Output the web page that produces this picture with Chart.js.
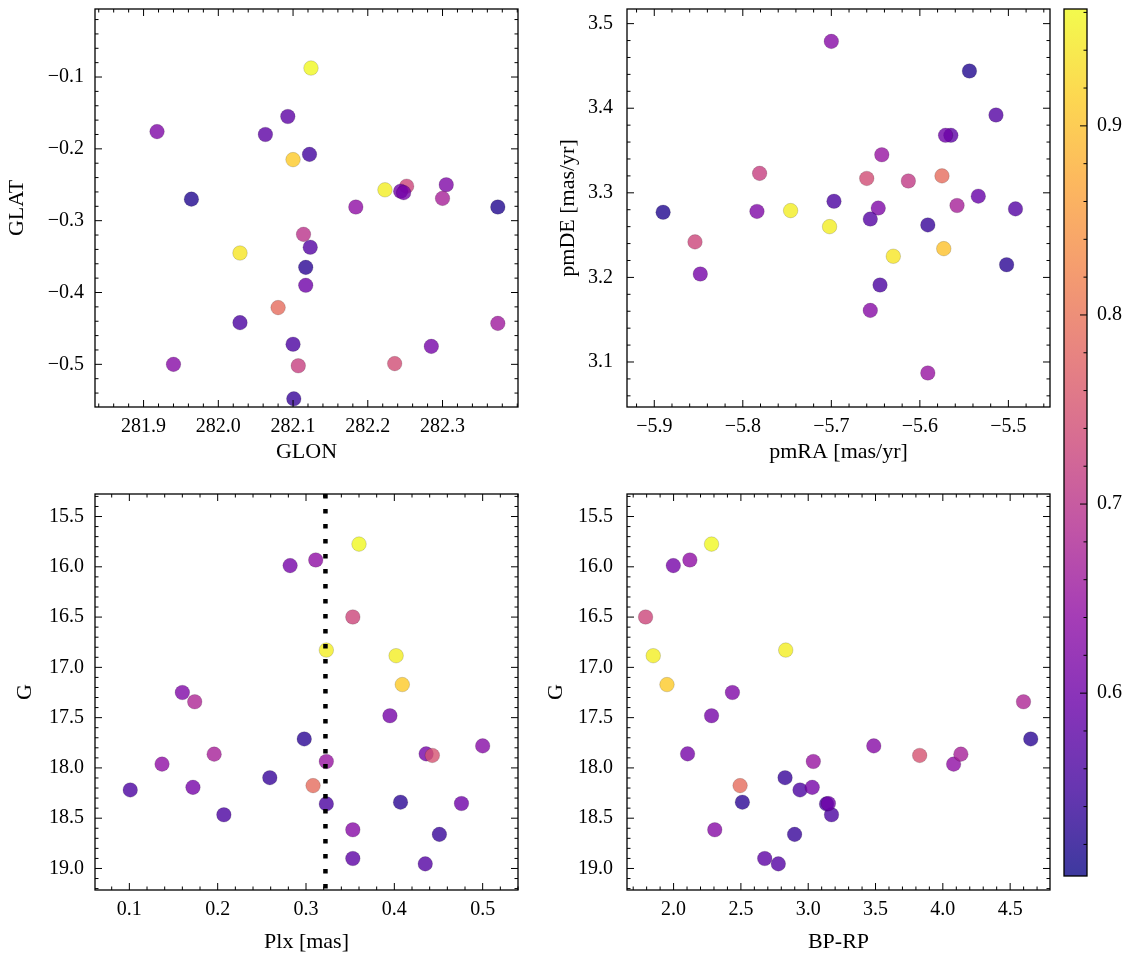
<!DOCTYPE html>
<html>
<head>
<meta charset="utf-8">
<script src="https://cdn.jsdelivr.net/npm/chart.js@4.4.1/dist/chart.umd.min.js"></script>
<style>
  body { margin: 0; background: #fff; }
  #wrap { position: relative; width: 1133px; height: 959px; }
  canvas { position: absolute; }
</style>
</head>
<body>
<div id="wrap">
  <canvas id="galChart" width="530" height="480" style="left:0;top:0"></canvas>
  <canvas id="pmChart" width="520" height="480" style="left:540px;top:0"></canvas>
  <canvas id="plxChart" width="530" height="479" style="left:0;top:480px"></canvas>
  <canvas id="cmdChart" width="520" height="479" style="left:540px;top:480px"></canvas>
  <canvas id="cbarChart" width="78" height="959" style="left:1055px;top:0"></canvas>
</div>
<script>
// Galactic coordinates (top left)
const glon = [281.918, 282.063, 282.093, 282.124, 282.100, 282.122, 281.964, 282.223, 282.252, 282.244,
              282.248, 282.305, 282.300, 282.184, 282.374, 282.114, 282.123, 282.029, 282.117, 282.117,
              282.080, 282.029, 282.374, 282.100, 282.285, 282.107, 281.940, 282.236, 282.101];
const glat = [-0.176, -0.180, -0.155, -0.0875, -0.215, -0.2077, -0.270, -0.257, -0.252, -0.259,
              -0.261, -0.250, -0.269, -0.281, -0.281, -0.319, -0.337, -0.345, -0.365, -0.390,
              -0.421, -0.442, -0.443, -0.472, -0.475, -0.502, -0.500, -0.499, -0.548];
const probGal = [0.62, 0.58, 0.58, 0.96, 0.91, 0.55, 0.52, 0.95, 0.73, 0.60,
                 0.61, 0.62, 0.67, 0.64, 0.52, 0.70, 0.57, 0.94, 0.53, 0.60,
                 0.79, 0.56, 0.66, 0.56, 0.61, 0.72, 0.63, 0.74, 0.54];

// Proper motions (top right)
const pmra = [-5.700, -5.544, -5.514, -5.565, -5.571, -5.643, -5.781, -5.660, -5.613, -5.575,
              -5.697, -5.534, -5.890, -5.784, -5.746, -5.647, -5.558, -5.492, -5.656, -5.702,
              -5.591, -5.854, -5.573, -5.630, -5.848, -5.502, -5.645, -5.656, -5.591];
const pmde = [3.479, 3.444, 3.392, 3.368, 3.368, 3.345, 3.323, 3.317, 3.314, 3.320,
              3.290, 3.296, 3.277, 3.278, 3.279, 3.282, 3.285, 3.281, 3.269, 3.260,
              3.262, 3.242, 3.234, 3.225, 3.204, 3.215, 3.191, 3.161, 3.087];
const probPm = [0.63, 0.52, 0.57, 0.58, 0.60, 0.65, 0.72, 0.74, 0.71, 0.79,
                0.56, 0.59, 0.52, 0.62, 0.95, 0.62, 0.67, 0.57, 0.57, 0.95,
                0.54, 0.73, 0.90, 0.94, 0.61, 0.53, 0.56, 0.63, 0.65];

// Photometry and parallax (bottom row)
const plx  = [0.101, 0.137, 0.160, 0.174, 0.172, 0.196, 0.207, 0.259, 0.282, 0.298,
              0.311, 0.308, 0.323, 0.323, 0.323, 0.353, 0.353, 0.353, 0.360, 0.395,
              0.402, 0.409, 0.407, 0.436, 0.443, 0.435, 0.451, 0.476, 0.500];
const gmag = [18.219, 17.962, 17.250, 17.342, 18.193, 17.863, 18.466, 18.097, 15.988, 17.712,
              15.932, 18.176, 16.828, 17.936, 18.358, 16.499, 18.615, 18.901, 15.774, 17.481,
              16.884, 17.171, 18.341, 17.860, 17.876, 18.954, 18.661, 18.354, 17.781];
const bprp = [2.939, 4.080, 2.437, 4.599, 3.030, 4.134, 3.173, 2.828, 1.998, 4.653,
              2.121, 2.494, 2.833, 3.038, 3.136, 1.792, 2.306, 2.677, 2.282, 2.282,
              1.849, 1.951, 2.511, 2.104, 3.828, 2.778, 2.899, 3.150, 3.487];
const probPhot = [0.56, 0.64, 0.62, 0.68, 0.61, 0.67, 0.56, 0.54, 0.61, 0.53,
                  0.64, 0.79, 0.95, 0.65, 0.56, 0.73, 0.63, 0.58, 0.96, 0.61,
                  0.95, 0.91, 0.53, 0.61, 0.75, 0.57, 0.54, 0.60, 0.63];
const plxMean = 0.322;

// axis limits and tick labels
const glonLim = [281.835, 282.401], glatLim = [-0.5594, -0.0053];
const pmraLim = [-5.9308, -5.453], pmdeLim = [3.0468, 3.5173];
const plxLim = [0.0611, 0.540], bprpLim = [1.654, 4.796], gLim = [15.276, 19.214];
const glonTicks = [281.9, 282.0, 282.1, 282.2, 282.3];
const glatTicks = [-0.1, -0.2, -0.3, -0.4, -0.5];
const pmraTicks = [-5.9, -5.8, -5.7, -5.6, -5.5];
const pmdeTicks = [3.1, 3.2, 3.3, 3.4, 3.5];
const plxTicks = [0.1, 0.2, 0.3, 0.4, 0.5];
const bprpTicks = [2.0, 2.5, 3.0, 3.5, 4.0, 4.5];
const gTicks = [15.5, 16.0, 16.5, 17.0, 17.5, 18.0, 18.5, 19.0];
const cbarLim = [0.5033, 0.9618];
const cbarTicks = [0.6, 0.7, 0.8, 0.9];

// matplotlib "plasma"
const plasma = [[13, 8, 135], [65, 4, 157], [106, 0, 168], [143, 13, 164], [177, 42, 144], [204, 71, 120],
                [225, 100, 98], [242, 132, 75], [252, 166, 54], [252, 206, 37], [240, 249, 33]];

function plasmaColor(v, alpha) {
    let t = (v - cbarLim[0]) / (cbarLim[1] - cbarLim[0]);
    t = Math.max(0, Math.min(1, t)) * (plasma.length - 1);
    const i = Math.min(Math.floor(t), plasma.length - 2), f = t - i;
    const c = plasma[i].map((a, k) => Math.round(a + (plasma[i + 1][k] - a) * f));
    return 'rgba(' + c.join(',') + ',' + alpha + ')';
}

function fmt(v, digits) {
    return v.toFixed(digits).replace('-', '\u2212');
}

Chart.defaults.font.family = "'Liberation Serif', 'DejaVu Serif', serif";
Chart.defaults.font.size = 20;
Chart.defaults.color = '#000';

// inward ticks on every side plus the frame, like the scienceplots style
const frameTicks = {
    id: 'frameTicks',
    afterDraw(chart, args, opts) {
        const ctx = chart.ctx, a = chart.chartArea;
        ctx.save();
        ctx.strokeStyle = '#000';
        ctx.lineWidth = 1;
        ['x', 'y'].forEach(function(key) {
            const o = opts[key];
            if (!o) return;
            const s = chart.scales[key];
            const sides = o.sides || (key === 'x' ? ['bottom', 'top'] : ['left', 'right']);
            const n0 = Math.ceil(s.min / o.minor - 1e-6), n1 = Math.floor(s.max / o.minor + 1e-6);
            ctx.beginPath();
            for (let n = n0; n <= n1; n++) {
                const v = n * o.minor;
                const len = o.major.some(m => Math.abs(m - v) < o.minor / 4) ? 7 : 3.5;
                const p = s.getPixelForValue(v);
                sides.forEach(function(side) {
                    if (side === 'bottom') { ctx.moveTo(p, a.bottom); ctx.lineTo(p, a.bottom - len); }
                    if (side === 'top') { ctx.moveTo(p, a.top); ctx.lineTo(p, a.top + len); }
                    if (side === 'left') { ctx.moveTo(a.left, p); ctx.lineTo(a.left + len, p); }
                    if (side === 'right') { ctx.moveTo(a.right, p); ctx.lineTo(a.right - len, p); }
                });
            }
            ctx.stroke();
        });
        ctx.lineWidth = 1.3;
        ctx.strokeRect(a.left, a.top, a.width, a.height);
        ctx.restore();
    }
};

// fixed axis boxes so every panel lands where it does in the figure
function fixBox(s, size, horizontal) {
    if (horizontal) s.height = size; else s.width = size;
    s.paddingTop = 0;
    s.paddingBottom = 0;
    s.paddingLeft = 0;
    s.paddingRight = 0;
}

function axis(lim, ticks, digits, title, size, tickPad, titlePad, horizontal, extra) {
    return Object.assign({
        type: 'linear',
        min: lim[0],
        max: lim[1],
        grid: { display: false, drawTicks: false },
        border: { display: false },
        afterBuildTicks: function(s) { s.ticks = ticks.map(v => ({ value: v })); },
        afterFit: function(s) { fixBox(s, size, horizontal); },
        ticks: { padding: tickPad, autoSkip: false, maxRotation: 0, callback: v => fmt(v, digits) },
        title: { display: true, text: title, font: { size: 22 }, padding: titlePad }
    }, extra || {});
}

function scatterSet(xs, ys, probs) {
    return {
        type: 'scatter',
        data: xs.map((x, i) => ({ x: x, y: ys[i] })),
        backgroundColor: probs.map(v => plasmaColor(v, 0.8)),
        borderColor: 'rgba(0, 0, 0, 0.3)',
        borderWidth: 0.5,
        pointRadius: 7.3,
        pointHoverRadius: 7.3,
        order: 1
    };
}

function baseOptions(padding, scales, ticks) {
    return {
        responsive: false,
        animation: false,
        layout: { padding: padding },
        plugins: { legend: { display: false }, tooltip: { enabled: false }, frameTicks: ticks },
        scales: scales
    };
}

// GLON vs GLAT
new Chart(document.getElementById('galChart'), {
    type: 'scatter',
    data: { datasets: [scatterSet(glon, glat, probGal)] },
    options: baseOptions({ top: 9, right: 12, left: 0, bottom: 0 }, {
        x: axis(glonLim, glonTicks, 1, 'GLON', 73, 8, { top: 0, bottom: 15 }, true),
        y: axis(glatLim, glatTicks, 1, 'GLAT', 95, 11, { top: 4, bottom: 0 }, false)
    }, { x: { major: glonTicks, minor: 0.02 }, y: { major: glatTicks, minor: 0.02 } }),
    plugins: [frameTicks]
});

// pmRA vs pmDE
new Chart(document.getElementById('pmChart'), {
    type: 'scatter',
    data: { datasets: [scatterSet(pmra, pmde, probPm)] },
    options: baseOptions({ top: 9, right: 10, left: 0, bottom: 0 }, {
        x: axis(pmraLim, pmraTicks, 1, 'pmRA [mas/yr]', 73, 8, { top: 0, bottom: 15 }, true),
        y: axis(pmdeLim, pmdeTicks, 1, 'pmDE [mas/yr]', 87, 14, { top: 15, bottom: 0 }, false)
    }, { x: { major: pmraTicks, minor: 0.02 }, y: { major: pmdeTicks, minor: 0.02 } }),
    plugins: [frameTicks]
});

// Plx vs G with the mean parallax marked
new Chart(document.getElementById('plxChart'), {
    type: 'scatter',
    data: {
        datasets: [{
            type: 'line',
            data: [{ x: plxMean, y: gLim[0] }, { x: plxMean, y: gLim[1] }],
            borderColor: '#000',
            borderWidth: 4.5,
            borderDash: [4.5, 10.5],
            borderCapStyle: 'butt',
            pointRadius: 0,
            order: 0
        }, scatterSet(plx, gmag, probPhot)]
    },
    options: baseOptions({ top: 14, right: 12, left: 0, bottom: 0 }, {
        x: axis(plxLim, plxTicks, 1, 'Plx [mas]', 69, 8, { top: 0, bottom: 4 }, true),
        y: axis(gLim, gTicks, 1, 'G', 95, 11, { top: 12, bottom: 0 }, false, { reverse: true })
    }, { x: { major: plxTicks, minor: 0.02 }, y: { major: gTicks, minor: 0.1 } }),
    plugins: [frameTicks]
});

// BP-RP vs G
new Chart(document.getElementById('cmdChart'), {
    type: 'scatter',
    data: { datasets: [scatterSet(bprp, gmag, probPhot)] },
    options: baseOptions({ top: 14, right: 10, left: 0, bottom: 0 }, {
        x: axis(bprpLim, bprpTicks, 1, 'BP-RP', 69, 8, { top: 0, bottom: 4 }, true),
        y: axis(gLim, gTicks, 1, 'G', 87, 14, { top: 3, bottom: 0 }, false, { reverse: true })
    }, { x: { major: bprpTicks, minor: 0.1 }, y: { major: gTicks, minor: 0.1 } }),
    plugins: [frameTicks]
});

// colour bar
const cbarFill = {
    id: 'cbarFill',
    beforeDatasetsDraw(chart) {
        const ctx = chart.ctx, a = chart.chartArea, s = chart.scales.y;
        const g = ctx.createLinearGradient(0, s.getPixelForValue(cbarLim[0]), 0, s.getPixelForValue(cbarLim[1]));
        plasma.forEach(function(c, i) {
            const v = cbarLim[0] + (cbarLim[1] - cbarLim[0]) * i / (plasma.length - 1);
            g.addColorStop(i / (plasma.length - 1), plasmaColor(v, 0.8));
        });
        ctx.fillStyle = g;
        ctx.fillRect(a.left, a.top, a.width, a.height);
    }
};

new Chart(document.getElementById('cbarChart'), {
    type: 'scatter',
    data: { datasets: [] },
    options: baseOptions({ top: 9, right: 0, left: 9, bottom: 83 }, {
        x: { display: false },
        y: {
            type: 'linear',
            position: 'right',
            min: cbarLim[0],
            max: cbarLim[1],
            grid: { display: false, drawTicks: false },
            border: { display: false },
            afterBuildTicks: function(s) { s.ticks = cbarTicks.map(v => ({ value: v })); },
            afterFit: function(s) { fixBox(s, 46, false); },
            ticks: { padding: 10, callback: v => fmt(v, 1) }
        }
    }, { y: { major: cbarTicks, minor: 0.02, sides: ['right'] } }),
    plugins: [cbarFill, frameTicks]
});
</script>
</body>
</html>
